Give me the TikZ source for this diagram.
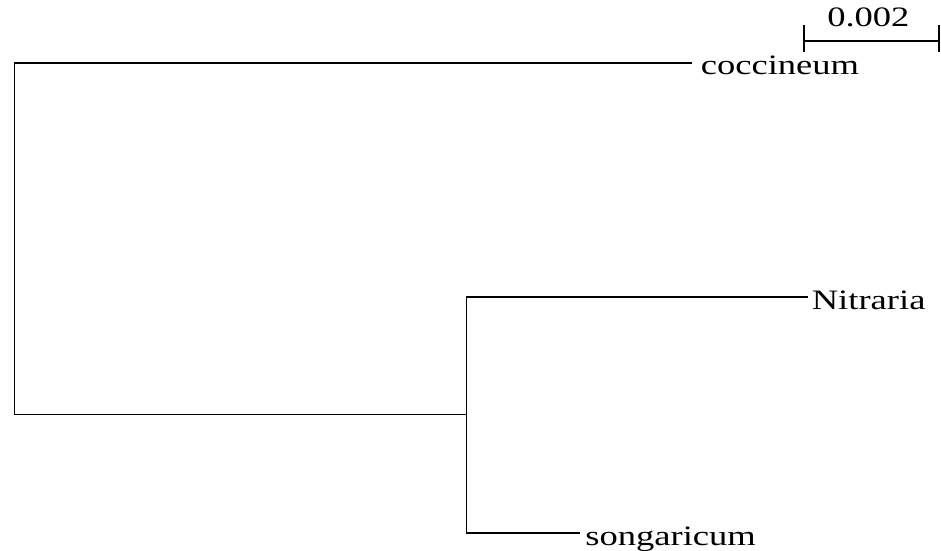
\documentclass[tikz,border=0pt]{standalone}
\usepackage{fontspec}
\setmainfont{Liberation Serif}
\newfontfamily\taxonfont[FakeStretch=1.3]{Liberation Serif}
\usepackage{tikz}
\usetikzlibrary{positioning}

\begin{document}
\begin{tikzpicture}[
    x=0.02cm, y=-0.02cm,
    branch/.style={draw, line width=1.1pt},
    scalebar/.style={draw, line width=1.1pt},
    taxon/.style={anchor=base west, inner sep=0pt, font=\taxonfont\fontsize{16}{19}\selectfont}
]
    \useasboundingbox (0,0) rectangle (941,551);

    % Tree nodes and tips
    \coordinate (root) at (14.5, 238.9);
    \coordinate (inner) at (466.5, 414.5);
    \coordinate (tipC) at (692, 63.3);
    \coordinate (tipN) at (807.5, 297.3);
    \coordinate (tipS) at (580, 533.3);

    % Branches
    \draw[branch] (tipC) -| (root) |- (inner);
    \draw[branch] (tipN) -| (inner) |- (tipS);

    % Taxa
    \node[taxon] (coccineum) at (700.5, 74.5) {coccineum};
    \node[taxon] (nitraria) at (811.5, 309.3) {Nitraria};
    \node[taxon] (songaricum) at (585, 545) {songaricum};

    % Scale bar
    \coordinate (barL) at (804.3, 40.7);
    \coordinate (barR) at (939, 40.7);
    \draw[scalebar] (barL) -- (barR);
    \draw[scalebar] (804.3, 25) -- (804.3, 51.7);
    \draw[scalebar] (939, 25) -- (939, 51.7);
    \node[taxon, anchor=base] (scale) at (868.4, 26.7) {0.002};
\end{tikzpicture}
\end{document}
